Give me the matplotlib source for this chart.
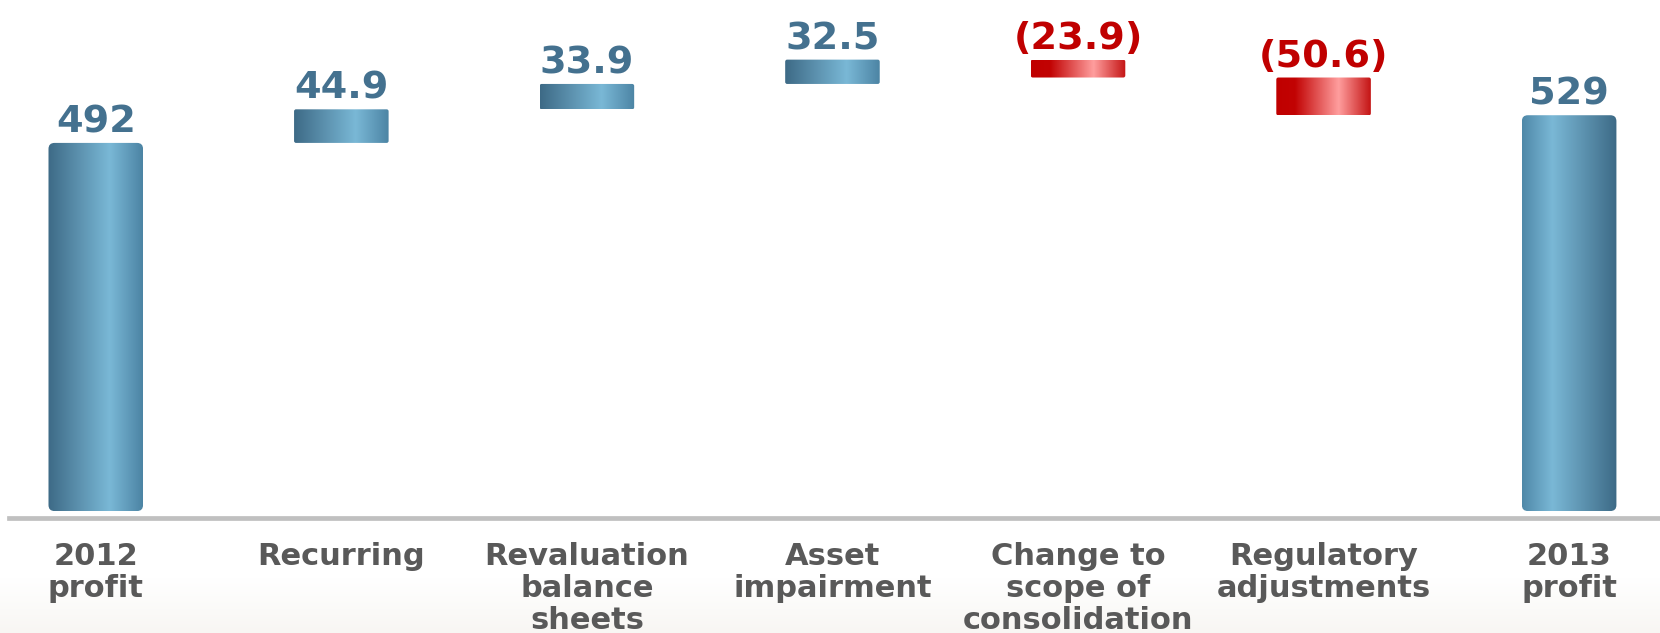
import numpy as np
import matplotlib
matplotlib.use("Agg")
import matplotlib.pyplot as plt
from matplotlib.patches import FancyBboxPatch
from matplotlib.colors import LinearSegmentedColormap

# data
categories = ["2012\nprofit", "Recurring", "Revaluation\nbalance\nsheets", "Asset\nimpairment",
              "Change to\nscope of\nconsolidation", "Regulatory\nadjustments", "2013\nprofit"]
values = [492, 44.9, 33.9, 32.5, -23.9, -50.6, 529]
labels = ["492", "44.9", "33.9", "32.5", "(23.9)", "(50.6)", "529"]
is_total = [True, False, False, False, False, False, True]

BLUE_TXT = "#44718f"
RED_TXT = "#c00000"
GRAY_TXT = "#595959"

blue_cmap = LinearSegmentedColormap.from_list(
    "blue", [(0, "#3d6a86"), (0.65, "#7ab8d6"), (1, "#4c84a4")])
blue_cmap_r = LinearSegmentedColormap.from_list(
    "blue_r", [(0, "#4f88a8"), (0.32, "#7ab8d6"), (1, "#3d6a86")])
red_cmap = LinearSegmentedColormap.from_list(
    "red", [(0, "#c00000"), (0.2, "#c20303"), (0.66, "#ff9e9e"), (1, "#c41414")])


def main():
    fig = plt.figure(figsize=(16.6, 6.33), dpi=100)
    ax = fig.add_axes([0, 0, 1, 1])
    ax.set_xlim(-0.39, 6.37)
    ax.set_ylim(-163, 683)
    ax.axis("off")

    # faint warm gradient at the bottom
    bg = np.linspace(0, 1, 100).reshape(-1, 1)
    bg_cmap = LinearSegmentedColormap.from_list("bg", ["#f8f6f3", "#ffffff"])
    ax.imshow(bg, cmap=bg_cmap, extent=(-0.39, 6.37, -163, -90), aspect="auto",
              origin="lower", zorder=0)

    # px -> data conversions for rounded corners
    x_px = 1660 / (6.37 + 0.39)
    y_px = 633 / (683 + 163)
    aspect = x_px / y_px

    width = 0.385
    grad = np.linspace(0, 1, 256).reshape(1, -1)
    running = 0.0
    for i, (v, tot) in enumerate(zip(values, is_total)):
        if tot:
            bottom, top = 0, v
            running = v
            cmap = blue_cmap if i == 0 else blue_cmap_r
            rad = 6
            col = BLUE_TXT
        else:
            bottom, top = sorted([running, running + v])
            running += v
            cmap = blue_cmap if v > 0 else red_cmap
            rad = 2
            col = BLUE_TXT if v > 0 else RED_TXT
        x0 = i - width / 2
        patch = FancyBboxPatch((x0, bottom), width, top - bottom,
                               boxstyle="round,pad=0,rounding_size=%f" % (rad / x_px),
                               mutation_aspect=aspect, facecolor="none", edgecolor="none")
        ax.add_patch(patch)
        im = ax.imshow(grad, cmap=cmap, extent=(x0, x0 + width, bottom, top),
                       aspect="auto", zorder=2)
        im.set_clip_path(patch)

        ax.annotate(labels[i], (i, top), xytext=(0, 7.5), textcoords="offset points",
                    ha="center", va="baseline", fontsize=27.5, fontweight="bold",
                    color=col, family="DejaVu Sans")

        ax.annotate(categories[i], (i, 0), xytext=(0, -22), textcoords="offset points",
                    ha="center", va="top", fontsize=22, fontweight="bold",
                    color=GRAY_TXT, linespacing=1.14, family="DejaVu Sans")

    ax.axhline(-9.5, xmin=0.0055, xmax=1, color="#c0c0c0", lw=3.4, zorder=1)

    fig.savefig("out.png", dpi=100)


if __name__ == "__main__":
    main()
